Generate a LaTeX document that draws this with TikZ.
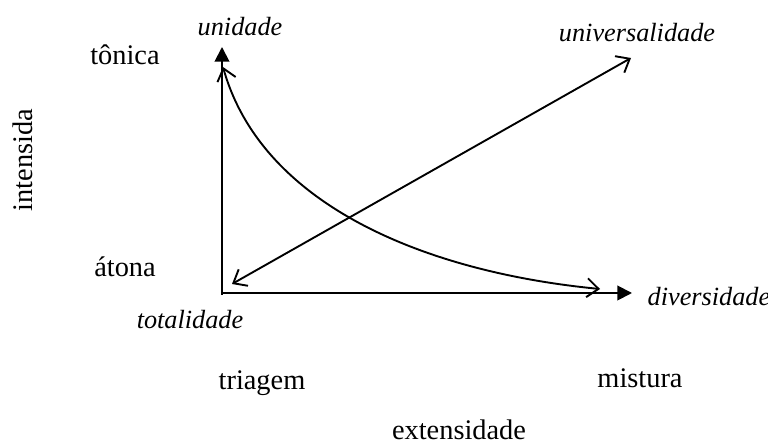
\documentclass[tikz,border=0pt]{standalone}
\usepackage{fontspec}
\setmainfont{Liberation Serif}
\usetikzlibrary{arrows.meta}
\begin{document}
\begin{tikzpicture}[x=0.476pt,y=-0.476pt,
  lbl/.style={font=\fontsize{13.5}{16}\selectfont, inner sep=0pt},
  ilbl/.style={lbl, font=\fontsize{12.5}{15}\selectfont\itshape},
  axis/.style={line width=0.9pt, -{Triangle[length=7pt,width=7pt]}},
  barb/.style={line width=0.9pt, {Straight Barb[length=5.5pt,width=9pt]}-{Straight Barb[length=5.5pt,width=9pt]}}]
\useasboundingbox (0,0) rectangle (768,444);
% coordinates
\coordinate (O) at (222,295);
\coordinate (Ytop) at (222,47);
\coordinate (Xend) at (632,293);
\coordinate (Ox) at (221,293);
\coordinate (Dlo) at (232,284);
\coordinate (Dhi) at (631,58);
\coordinate (Cst) at (600,289);
\coordinate (Cen) at (223,67);
% labels
\node[ilbl] (unidade) at (240,27) {unidade};
\node[ilbl] (universalidade) at (637,33) {universalidade};
\node[lbl] (tonica) at (125,55) {tônica};
\node[lbl] (atona) at (125,267) {átona};
\node[lbl, rotate=90] (intensida) at (23,160) {intensida};
\node[ilbl] (totalidade) at (190,320) {totalidade};
\node[ilbl] (diversidade) at (709,297) {diversidade};
\node[lbl] (triagem) at (262,383) {triagem};
\node[lbl] (mistura) at (640,378) {mistura};
\node[lbl] (extensidade) at (459,430) {extensidade};
% axes
\draw[axis] (O) -- (Ytop);
\draw[axis] (Ox) -- (Xend);
% diagonal
\draw[barb] (Dlo) -- (Dhi);
% curve
\draw[barb] (Cst) .. controls (425,272) and (262,205) .. (Cen);
\end{tikzpicture}
\end{document}
